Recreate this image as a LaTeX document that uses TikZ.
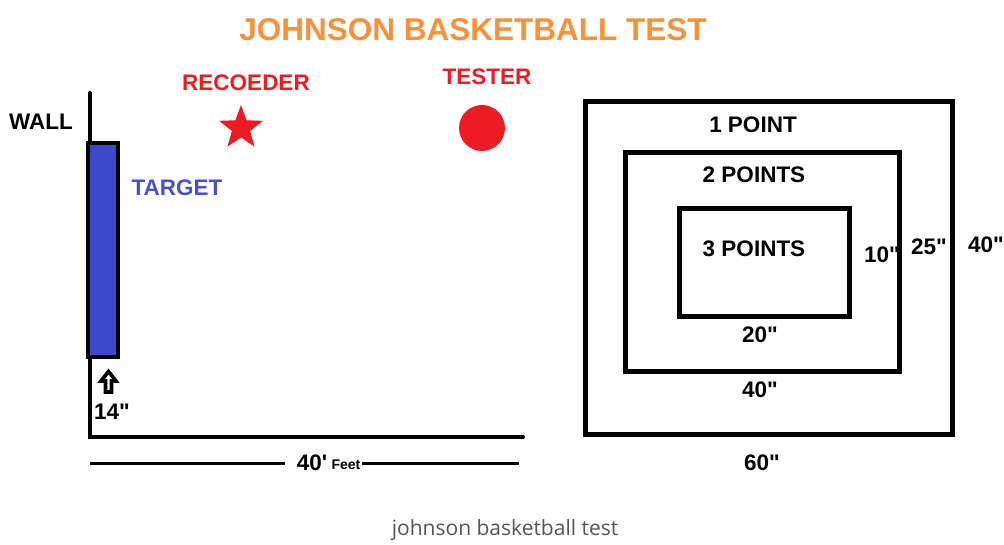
\documentclass[tikz,border=0pt]{standalone}
\usepackage{fontspec}
\usetikzlibrary{shapes.geometric}
\newfontfamily\lsans{Liberation Sans}
\newfontfamily\capfont{Open Sans}
\definecolor{torange}{HTML}{F7913A}
\definecolor{tred}{HTML}{ED1C24}
\definecolor{tblue}{HTML}{3F48CC}
\definecolor{tbluetext}{HTML}{4A50C8}
\definecolor{capgray}{HTML}{555555}
\tikzset{
  lbl/.style={inner sep=0pt, font=\lsans\bfseries\fontsize{22.5}{24}\selectfont},
  thick line/.style={line width=4pt},
  zone/.style={draw=black, line width=5pt},
}
\begin{document}
\begin{tikzpicture}[x=1pt,y=-1pt]
\useasboundingbox (0,0) rectangle (1004,545);
% title
\node[inner sep=0pt, text=torange, font=\lsans\bfseries\fontsize{31.5}{34}\selectfont] (title) at (473,30) {JOHNSON BASKETBALL TEST};
% wall and floor
\coordinate (walltop) at (90,93);
\coordinate (corner) at (90,437);
\coordinate (floorend) at (523,437);
\draw[thick line, line cap=round] (walltop) -- (corner) -- (floorend);
% target
\draw[fill=tblue, draw=black, line width=4pt] (88,143) rectangle (118,357);
\node[lbl] (wall) at (41,122) {WALL};
\node[lbl, text=tbluetext] (target) at (177,188) {TARGET};
\node[lbl, text=tred] (rec) at (246,83) {RECOEDER};
\node[lbl, text=tred] (tester) at (487,77) {TESTER};
\node[star, star points=5, star point ratio=2.4, fill=tred, minimum size=46pt, inner sep=0pt] (starmark) at (241,128) {};
\node[circle, fill=tred, minimum size=46pt, inner sep=0pt] (dot) at (482,128) {};
% small up arrow
\draw[line width=3.6pt, fill=white, line join=miter] (108.5,371.5) -- (116,381) -- (111.5,381) -- (111.5,392) -- (105.5,392) -- (105.5,381) -- (101,381) -- cycle;
\node[lbl] (fourteen) at (112,412) {14"};
% distance line
\node[lbl] (forty) at (312,463) {40'};
\node[inner sep=0pt, font=\lsans\bfseries\fontsize{14}{16}\selectfont] (feet) at (346,465) {Feet};
\coordinate (dl) at (90,463);
\coordinate (dr) at (519,463);
\draw[line width=3pt] (dl) -- (285,463);
\draw[line width=3pt] (feet.east) ++(1,-2) coordinate (fe) (fe) -- (dr);
% scoring zones
\draw[zone] (585,102) rectangle (952,434);
\draw[zone] (625,153) rectangle (899,371);
\draw[zone] (679,209) rectangle (849,317);
\node[lbl] (p1) at (753,125) {1 POINT};
\node[lbl] (p2) at (754,175) {2 POINTS};
\node[lbl] (p3) at (754,249) {3 POINTS};
\node[lbl] (m10) at (882,255) {10"};
\node[lbl] (m25) at (929,247) {25"};
\node[lbl] (m40v) at (986,245) {40"};
\node[lbl] (m20) at (760,335) {20"};
\node[lbl] (m40h) at (760,390) {40"};
\node[lbl] (m60) at (762,463) {60"};
% caption
\node[inner sep=0pt, text=capgray, font=\capfont\fontsize{21}{23}\selectfont] (caption) at (505,530) {johnson basketball test};
\end{tikzpicture}
\end{document}
